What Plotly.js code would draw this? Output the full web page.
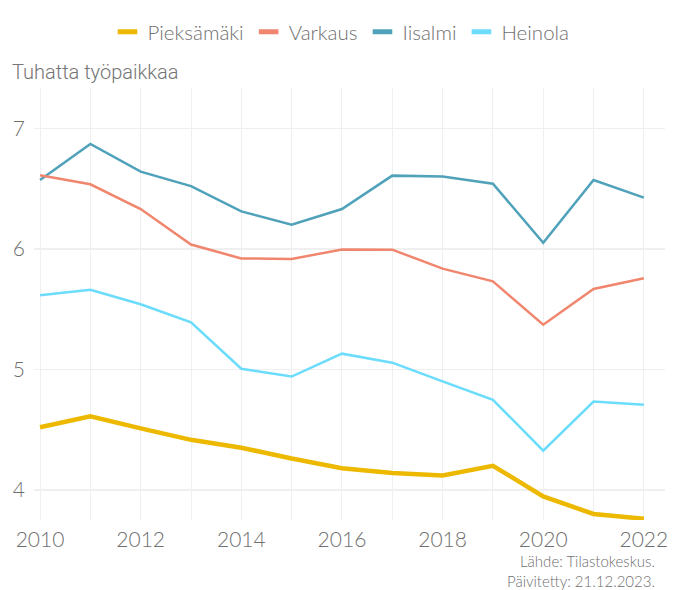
<!DOCTYPE html>
<html>
<head>
<meta charset="utf-8">
<script src="https://cdn.plot.ly/plotly-3.0.1.min.js"></script>
<style>html,body{margin:0;padding:0;background:#fff;}#chart{width:682px;height:590px;}</style>
</head>
<body>
<div id="chart"></div>
<script>
const years = [2010, 2011, 2012, 2013, 2014, 2015, 2016, 2017, 2018, 2019, 2020, 2021, 2022];
const pieksamaki = [4.52, 4.61, 4.51, 4.415, 4.35, 4.26, 4.18, 4.14, 4.12, 4.20, 3.945, 3.80, 3.76];
const varkaus = [6.61, 6.535, 6.33, 6.035, 5.92, 5.915, 5.995, 5.993, 5.835, 5.73, 5.37, 5.667, 5.756];
const iisalmi = [6.57, 6.87, 6.64, 6.52, 6.31, 6.20, 6.33, 6.607, 6.60, 6.54, 6.05, 6.57, 6.425];
const heinola = [5.615, 5.66, 5.54, 5.39, 5.005, 4.94, 5.13, 5.055, 4.90, 4.747, 4.325, 4.733, 4.706];
const seriesNames = ["Pieksämäki", "Varkaus", "Iisalmi", "Heinola"];
const seriesValues = [pieksamaki, varkaus, iisalmi, heinola];
const colors = ["#EDB900", "#F0866E", "#4FA2BA", "#6BDCFC"];
const widths = [4.5, 2.5, 2.5, 2.5];
const yTickVals = [4, 5, 6, 7];
const yTitle = "Tuhatta työpaikkaa";
const sourceText = "Lähde: Tilastokeskus.<br>Päivitetty: 21.12.2023.";

const FONT = "Lato, 'Open Sans', sans-serif";
const GREY = "#6f6f6f";

const traces = [];
for (let i = seriesNames.length - 1; i >= 0; i--) {
  traces.push({
    x: years, y: seriesValues[i], type: "scatter", mode: "lines",
    name: seriesNames[i], showlegend: false,
    line: {color: colors[i], width: widths[i]},
    hoverinfo: "x+y+name"
  });
}
for (let i = 0; i < seriesNames.length; i++) {
  traces.push({
    x: [null], y: [null], type: "scatter", mode: "markers",
    name: seriesNames[i], showlegend: true,
    marker: {symbol: "line-ew", size: 14, color: colors[i], line: {color: colors[i], width: 5}}
  });
}

const layout = {
  width: 682, height: 590,
  margin: {l: 34, r: 17, t: 88, b: 70},
  paper_bgcolor: "#ffffff", plot_bgcolor: "#ffffff",
  font: {family: FONT, color: GREY, size: 18, weight: 300},
  showlegend: true,
  legend: {
    orientation: "h", x: 0.5, xanchor: "center", xref: "container",
    y: 1 - 32 / 590, yanchor: "middle", yref: "container",
    font: {family: FONT, size: 20.5, color: GREY, weight: 300},
    itemwidth: 30, traceorder: "normal"
  },
  title: {
    text: yTitle, x: 12 / 682, xanchor: "left", xref: "container",
    y: 1 - 72 / 590, yanchor: "middle", yref: "container",
    font: {family: "Roboto, 'Liberation Sans', sans-serif", size: 20, color: "#757575", weight: 300}
  },
  xaxis: {
    range: [2009.88, 2022.42], tickvals: [2010, 2012, 2014, 2016, 2018, 2020, 2022],
    showgrid: true, gridcolor: "#efefef", gridwidth: 1,
    minor: {dtick: 1, tick0: 2010, showgrid: true, gridcolor: "#efefef", gridwidth: 1},
    zeroline: false, showline: false, ticks: "",
    ticklabelstandoff: 5,
    tickfont: {family: FONT, size: 21, color: GREY, weight: 300}
  },
  yaxis: {
    range: [3.75, 7.334], tickvals: yTickVals,
    showgrid: true, gridcolor: "#efefef", gridwidth: 1.5,
    zeroline: false, showline: false, ticks: "",
    ticklabelstandoff: 8,
    tickfont: {family: FONT, size: 21, color: GREY, weight: 300}
  },
  annotations: [{
    text: sourceText, xref: "paper", yref: "paper", x: 1 - 8 / 631, y: 0,
    xanchor: "right", yanchor: "top", yshift: -30, align: "right", showarrow: false,
    font: {family: FONT, size: 15, color: GREY, weight: 300}
  }]
};

Plotly.newPlot("chart", traces, layout, {displayModeBar: false, staticPlot: true});
</script>
</body>
</html>
